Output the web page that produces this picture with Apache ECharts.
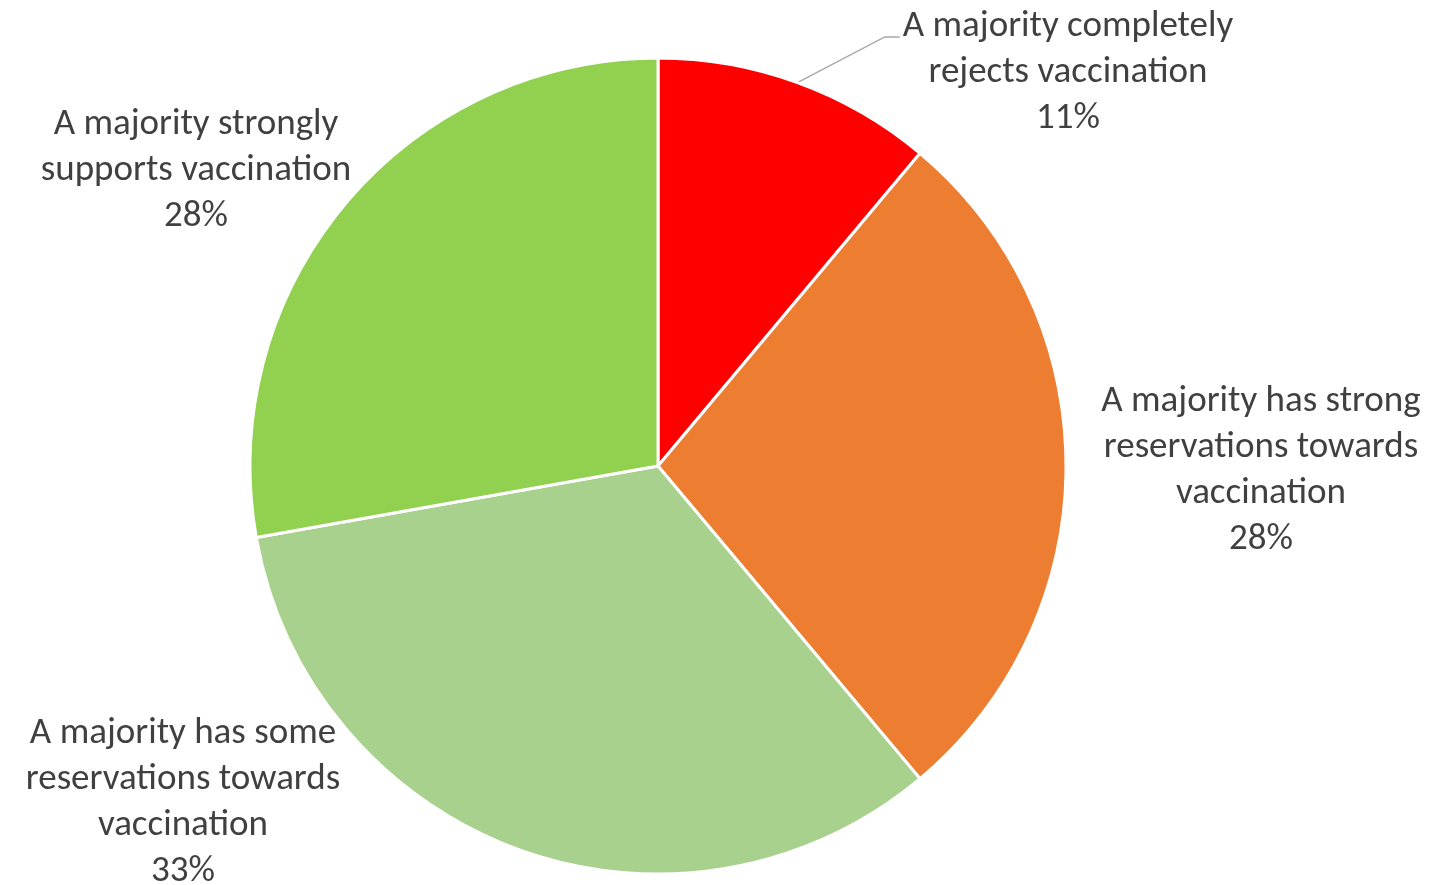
<!DOCTYPE html>
<html>
<head>
<meta charset="utf-8">
<script src="https://cdn.jsdelivr.net/npm/echarts@6/dist/echarts.min.js"></script>
<style>
html,body{margin:0;padding:0;background:#fff;}
#main{width:1430px;height:885px;}
</style>
</head>
<body>
<div id="main"></div>
<script>
const categories = [
  'A majority completely\nrejects vaccination',
  'A majority has strong\nreservations towards\nvaccination',
  'A majority has some\nreservations towards\nvaccination',
  'A majority strongly\nsupports vaccination'
];
const values = [11.1, 27.8, 33.3, 27.8];
const colors = ['#FF0000', '#ED7D31', '#A9D18E', '#92D050'];

// label block centres (layout only)
const labelPos = [[1068, 73], [1261, 471], [183, 803], [196, 171]];
const LH = 46;

const chart = echarts.init(document.getElementById('main'), null, {renderer: 'canvas'});
chart.setOption({
  animation: false,
  backgroundColor: '#ffffff',
  series: [{
    type: 'pie',
    center: [658, 466],
    radius: 408,
    startAngle: 90,
    clockwise: true,
    avoidLabelOverlap: false,
    percentPrecision: 0,
    itemStyle: {borderColor: '#ffffff', borderWidth: 3},
    label: {
      show: true,
      position: 'outside',
      formatter: '{b}\n{d}%',
      color: '#404040',
      fontFamily: 'Carlito, "Open Sans", sans-serif',
      fontSize: 37,
      lineHeight: LH
    },
    labelLine: {show: false, length: 20, length2: 10, lineStyle: {color: '#A6A6A6', width: 1.3}},
    labelLayout: function (p) {
      const pos = labelPos[p.dataIndex];
      const w = p.labelRect.width, h = p.labelRect.height;
      const res = {x: pos[0], y: pos[1], align: 'center', verticalAlign: 'middle'};
      if (p.dataIndex === 0 && p.labelLinePoints) {
        const left = pos[0] - w / 2;
        const ly = pos[1] - h / 2 + LH / 2 + 10;
        res.labelLinePoints = [p.labelLinePoints[0], [left - 18, ly], [left - 3, ly]];
      }
      return res;
    },
    emphasis: {disabled: true},
    data: categories.map(function (c, i) {
      const d = {name: c, value: values[i], itemStyle: {color: colors[i]}};
      if (i === 0) d.labelLine = {show: true};
      return d;
    })
  }]
});
</script>
</body>
</html>
